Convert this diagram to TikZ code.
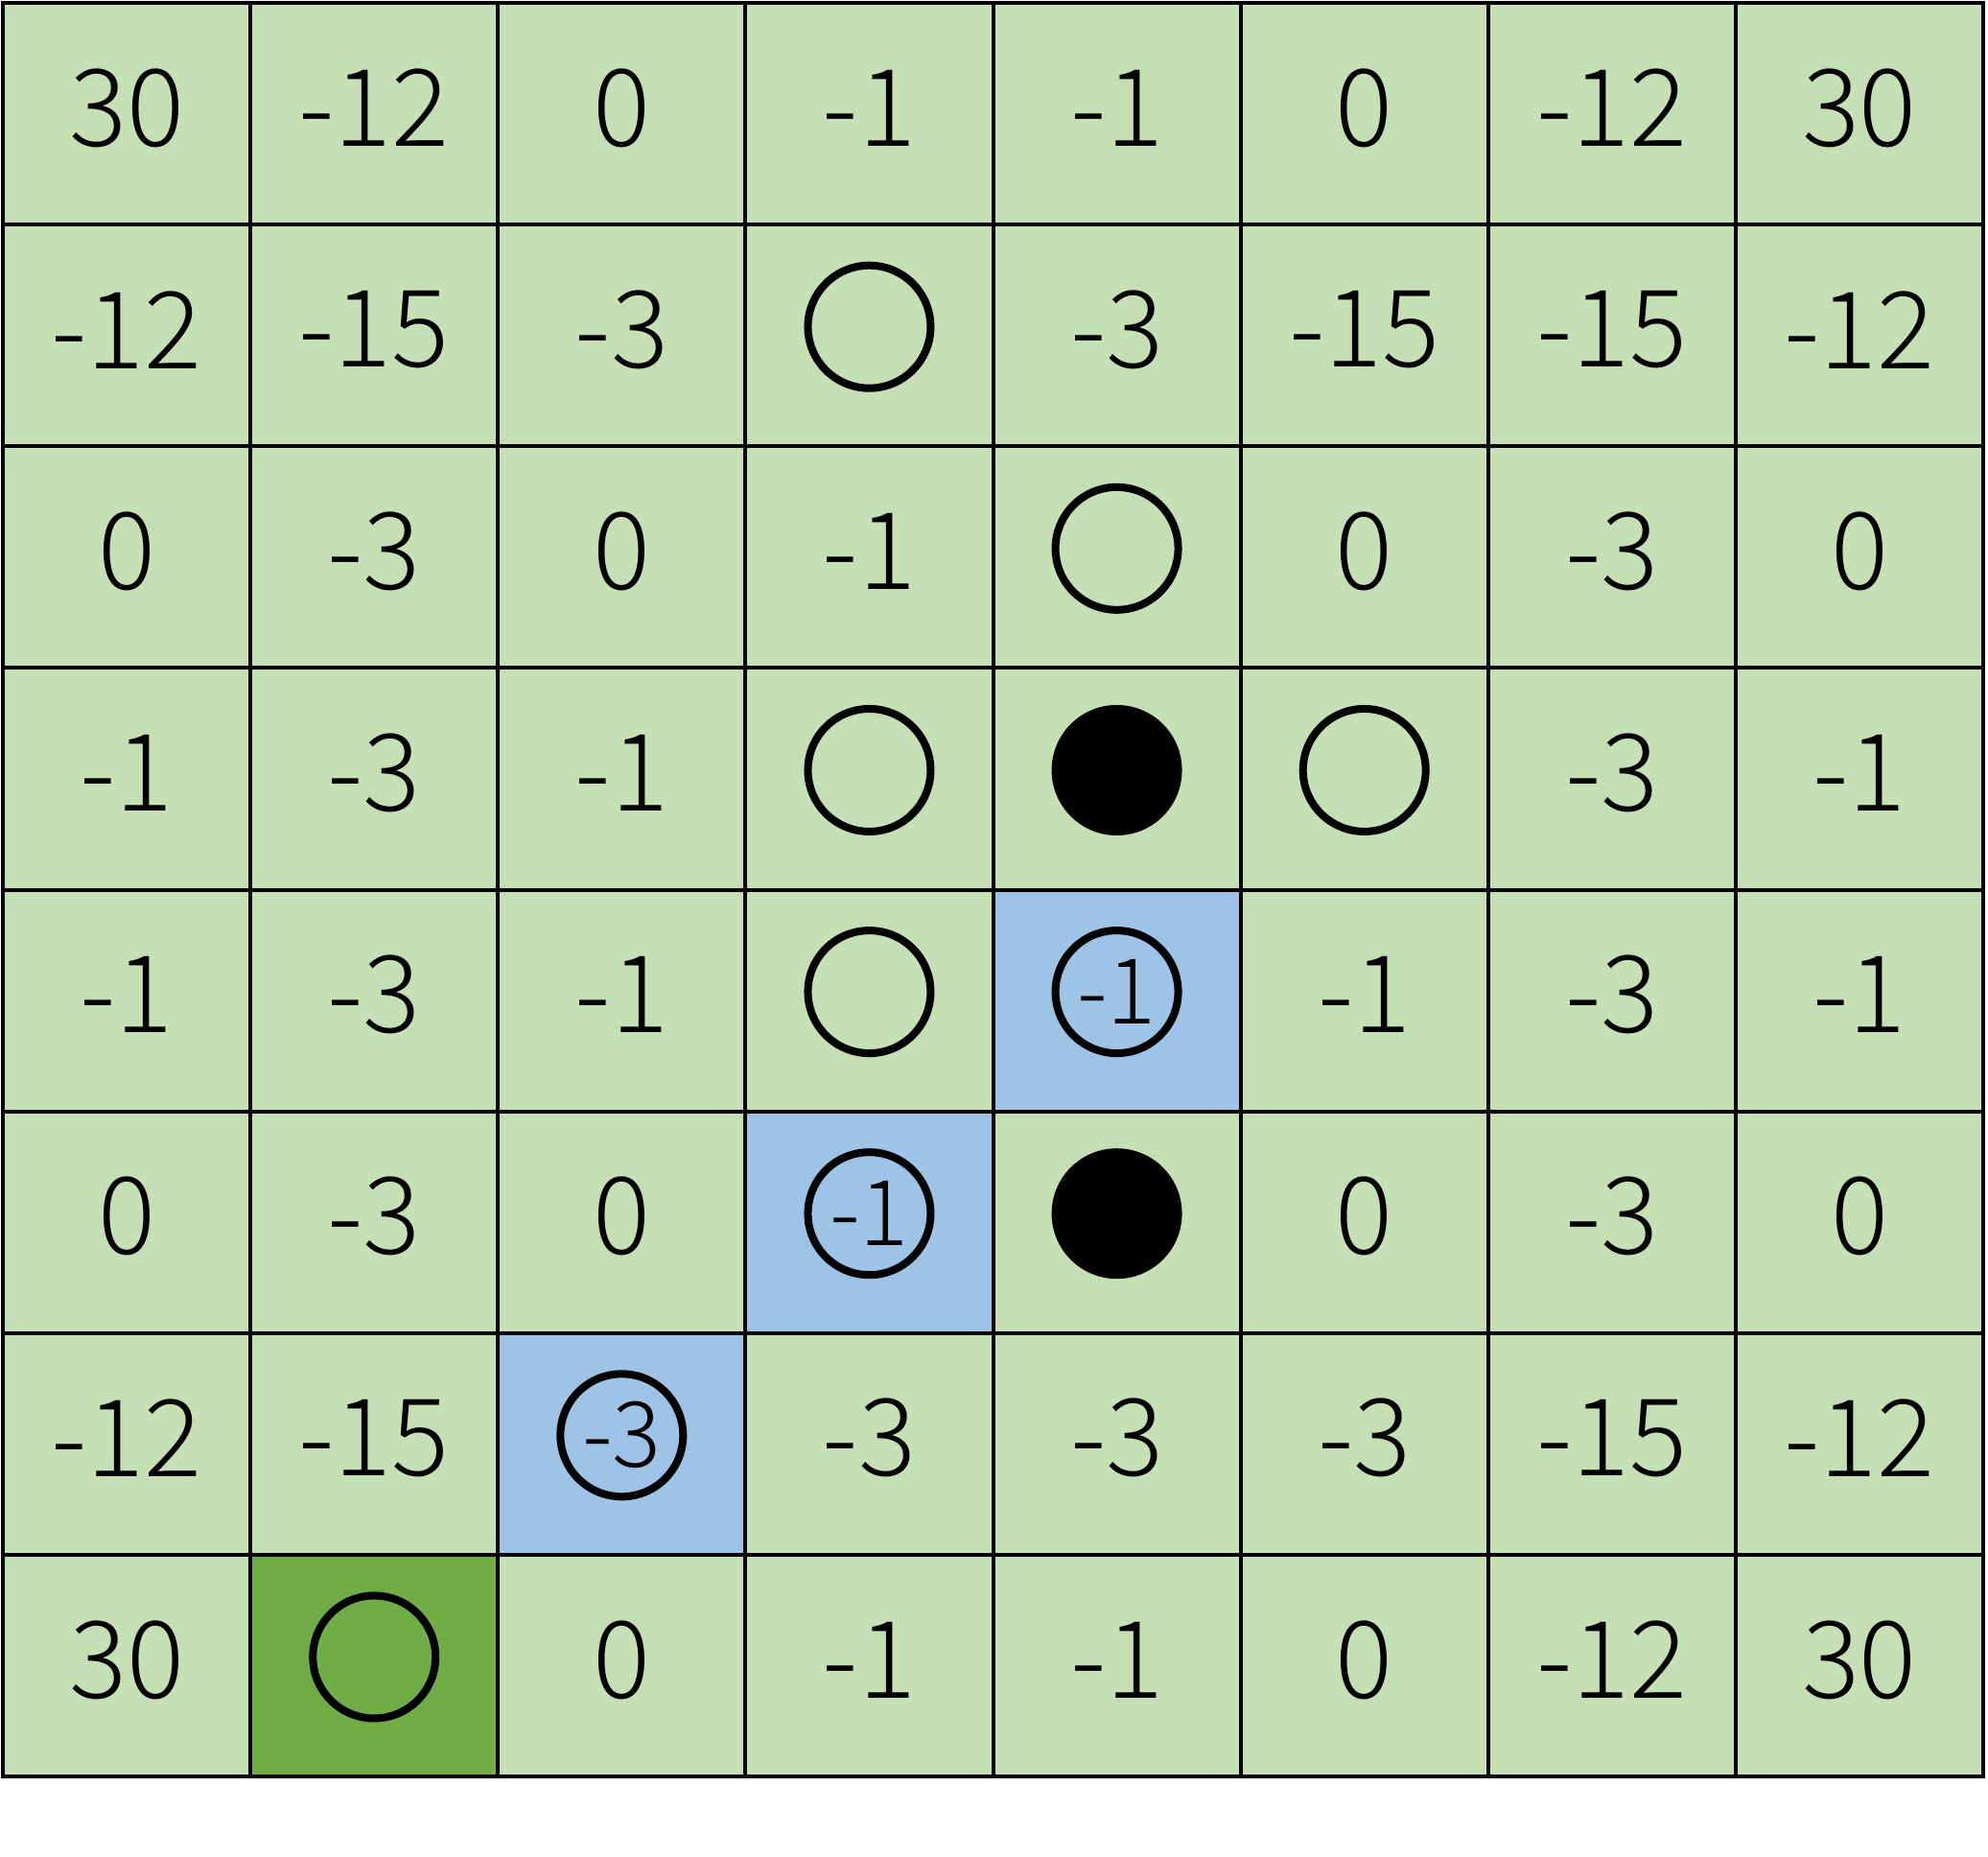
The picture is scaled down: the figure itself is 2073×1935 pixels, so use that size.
\documentclass[tikz,border=0pt]{standalone}
\usepackage{fontspec}
\IfFontExistsTF{Noto Sans CJK JP Light}
  {\newfontfamily\jpfont{Noto Sans CJK JP Light}}
  {\IfFontExistsTF{Noto Sans CJK JP DemiLight}
    {\newfontfamily\jpfont{Noto Sans CJK JP DemiLight}}
    {\newfontfamily\jpfont{Noto Sans CJK JP}}}
\definecolor{lgreen}{HTML}{C5E0B4}
\definecolor{lblue}{HTML}{9DC3E6}
\definecolor{dgreen}{HTML}{70AD47}
\begin{document}
\begin{tikzpicture}[x=0.02cm,y=-0.02cm,
  cellbox/.style={minimum width=5.1625cm, minimum height=4.6225cm, inner sep=0pt, outer sep=0pt, draw=none},
  num/.style={font=\jpfont\fontsize{63.7}{70}\selectfont, inner sep=0pt},
  smallnum/.style={font=\jpfont\fontsize{54}{60}\selectfont},
  gridline/.style={line width=0.08cm, draw=black},
  stone/.style={circle, draw=black, line width=0.16cm, minimum size=2.56cm, inner sep=0pt},
  blackstone/.style={stone, fill=black}
]
\useasboundingbox (0,0) rectangle (2073,1935);
\fill[lgreen] (3,3) rectangle (2068,1852);
\def\skipmark{x}
\foreach \row [count=\r from 0] in {
  {30,-12,0,-1,-1,0,-12,30},
  {-12,-15,-3,x,-3,-15,-15,-12},
  {0,-3,0,-1,x,0,-3,0},
  {-1,-3,-1,x,x,x,-3,-1},
  {-1,-3,-1,x,x,-1,-3,-1},
  {0,-3,0,x,x,0,-3,0},
  {-12,-15,x,-3,-3,-3,-15,-12},
  {30,x,0,-1,-1,0,-12,30}} {
  \foreach \v [count=\c from 0] in \row {
    \coordinate (c-\r-\c) at ({3+(\c+0.5)*258.125},{3+(\r+0.5)*231.125});
    \ifx\v\skipmark\else
      \node[num] (t-\r-\c) at ([yshift=0.12cm]c-\r-\c) {\v};
    \fi
  }
}
% highlighted cells
\node[cellbox, fill=lblue] (h-4-4) at (c-4-4) {};
\node[cellbox, fill=lblue] (h-5-3) at (c-5-3) {};
\node[cellbox, fill=lblue] (h-6-2) at (c-6-2) {};
\node[cellbox, fill=dgreen] (h-7-1) at (c-7-1) {};
% grid lines
\foreach \i in {1,...,7} {
  \draw[gridline] ({3+\i*258.125},3) -- ({3+\i*258.125},1852);
  \draw[gridline] (3,{3+\i*231.125}) -- (2068,{3+\i*231.125});
}
\draw[gridline] (3,3) rectangle (2068,1852);
% stones
\node[stone] (s-1-3) at ([yshift=0.18cm]c-1-3) {};
\node[stone] (s-2-4) at ([yshift=0.18cm]c-2-4) {};
\node[stone] (s-3-3) at ([yshift=0.18cm]c-3-3) {};
\node[blackstone] (s-3-4) at ([yshift=0.18cm]c-3-4) {};
\node[stone] (s-3-5) at ([yshift=0.18cm]c-3-5) {};
\node[stone] (s-4-3) at ([yshift=0.18cm]c-4-3) {};
\node[stone, smallnum] (s-4-4) at ([yshift=0.18cm]c-4-4) {-1};
\node[stone, smallnum] (s-5-3) at ([yshift=0.18cm]c-5-3) {-1};
\node[blackstone] (s-5-4) at ([yshift=0.18cm]c-5-4) {};
\node[stone, smallnum] (s-6-2) at ([yshift=0.18cm]c-6-2) {-3};
\node[stone] (s-7-1) at ([yshift=0.18cm]c-7-1) {};
\end{tikzpicture}
\end{document}
